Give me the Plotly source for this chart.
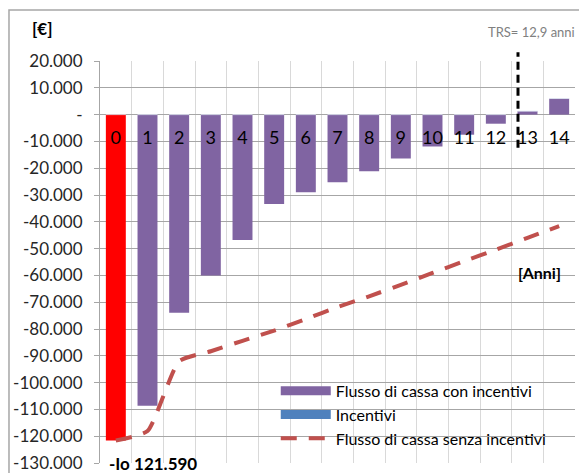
import plotly.graph_objects as go

# data
ANNI = [0, 1, 2, 3, 4, 5, 6, 7, 8, 9, 10, 11, 12, 13, 14]
FLUSSO_CON_INCENTIVI = [-121590, -108600, -73900, -60000, -46800, -33400, -29000,
                        -25200, -21100, -16400, -11900, -7500, -3400, 1300, 6000]
INCENTIVI = [0, 0, 0, 0, 0, 0, 0, 0, 0, 0, 0, 0, 0, 0, 0]
FLUSSO_SENZA_INCENTIVI = [-121590, -118100, -92000, -88300, -84400, -80600, -76300,
                          -71800, -67800, -63500, -59100, -54700, -50400, -46000, -41600]
Y_TICKS = [20000, 10000, 0, -10000, -20000, -30000, -40000, -50000, -60000,
           -70000, -80000, -90000, -100000, -110000, -120000, -130000]
Y_TICKTEXT = ["20.000", "10.000", "-", "-10.000", "-20.000", "-30.000", "-40.000",
              "-50.000", "-60.000", "-70.000", "-80.000", "-90.000", "-100.000",
              "-110.000", "-120.000", "-130.000"]
TRS = 12.7  # where the payback marker sits on the year axis

PURPLE = "#8064A2"
BLUE = "#4F81BD"
RED_LINE = "#C0504D"
FONT = "Lato"

fig = go.Figure()

bar_colors = ["#FF0000" if a == 0 else PURPLE for a in ANNI]
fig.add_trace(go.Bar(x=ANNI, y=FLUSSO_CON_INCENTIVI, marker_color=bar_colors,
                     marker_line_width=0, width=0.63, showlegend=False))
fig.add_trace(go.Bar(x=ANNI, y=INCENTIVI, marker_color=BLUE, width=0.63,
                     showlegend=False))

# legend proxies (wide swatches like Excel)
fig.add_trace(go.Scatter(x=[None], y=[None], mode="lines", name="Flusso di cassa con incentivi",
                         line={"color": PURPLE, "width": 9}))
fig.add_trace(go.Scatter(x=[None], y=[None], mode="lines", name="Incentivi",
                         line={"color": BLUE, "width": 9}))

fig.add_trace(go.Scatter(x=ANNI, y=FLUSSO_SENZA_INCENTIVI, mode="lines",
                         name="Flusso di cassa senza incentivi",
                         line={"color": RED_LINE, "width": 4, "dash": "16px,12px",
                               "shape": "spline", "smoothing": 0.5}))

fig.add_shape(type="line", xref="x", yref="paper", x0=TRS, x1=TRS, y0=0.784, y1=1.022,
              line={"color": "black", "width": 3, "dash": "8px,5px"})
# outer chart border
fig.add_shape(type="rect", xref="paper", yref="paper", x0=-0.1916, x1=1.5, y0=-0.5, y1=1.127,
              line={"color": "#A6A6A6", "width": 1.5}, layer="below")

notes = [
    ("<b>[€]</b>", -0.122, 1.08, 17, "#000"),
    ("TRS= 12,9 anni", 0.909, 1.073, 13, "#808080"),
    ("<b>[Anni]</b>", 0.926, 0.475, 16, "#000"),
    ("<b>-Io 121.590</b>", 0.112, -0.002, 17, "#000"),
]
for text, x, y, size, color in notes:
    fig.add_annotation(text=text, xref="paper", yref="paper", x=x, y=y,
                       xanchor="center", yanchor="middle", showarrow=False,
                       font={"size": size, "color": color})

# page body has an 8px margin, so the figure is sized to the visible area
fig.update_layout(
    width=579, height=465,
    margin={"l": 92, "r": 12, "t": 53, "b": 10, "autoexpand": False},
    plot_bgcolor="white", paper_bgcolor="white",
    font={"family": FONT, "color": "#000"},
    barmode="relative",
    legend={"x": 0.37, "y": 0.222, "xanchor": "left", "yanchor": "top",
            "bgcolor": "rgba(0,0,0,0)", "font": {"size": 16}, "itemwidth": 50,
            "tracegroupgap": 0},
    xaxis={
        "range": [-0.5, 14.5], "anchor": "free", "position": 130 / 150, "automargin": False,
        "tickvals": ANNI, "ticktext": [str(a) for a in ANNI],
        "showgrid": False, "showline": False, "zeroline": False, "ticks": "",
        "ticklabelstandoff": 10, "tickfont": {"size": 18, "color": "#000"},
        "minor": {"tick0": -0.5, "dtick": 1, "showgrid": True, "gridcolor": "#D9D9D9",
                  "gridwidth": 1, "ticks": ""},
    },
    yaxis={
        "range": [-130000, 20000], "tickvals": Y_TICKS, "ticktext": Y_TICKTEXT,
        "automargin": False,
        "gridcolor": "#A6A6A6", "zeroline": True, "zerolinecolor": "#A6A6A6",
        "zerolinewidth": 1, "showline": True, "linecolor": "#A6A6A6",
        "ticks": "outside", "ticklen": 5, "tickcolor": "#A6A6A6",
        "ticklabelstandoff": 8,
        "tickfont": {"size": 17, "color": "#262626"},
    },
)

fig.write_html("out.html")
